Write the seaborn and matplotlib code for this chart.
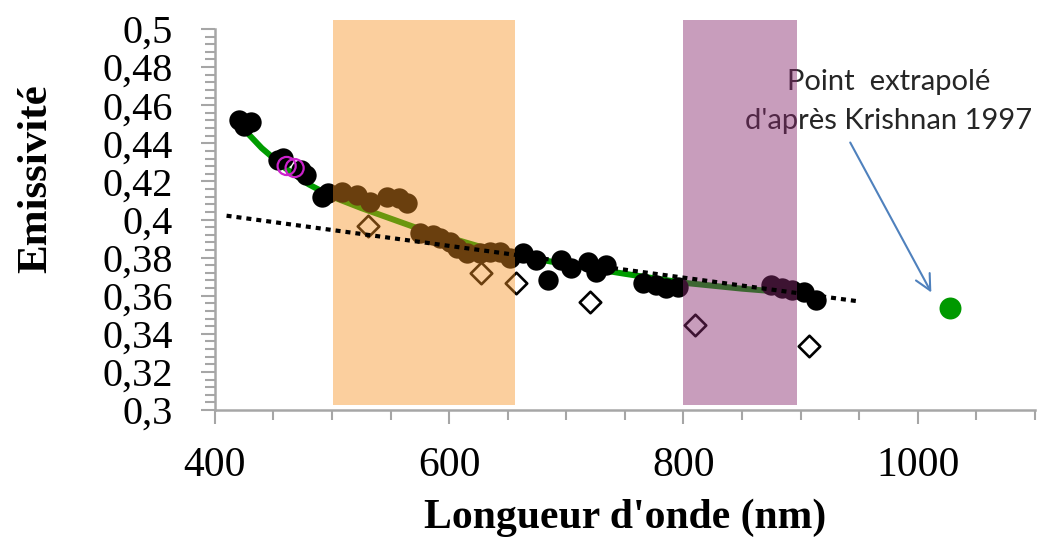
import matplotlib
matplotlib.use('Agg')
import matplotlib.pyplot as plt
from matplotlib.ticker import MultipleLocator
import seaborn as sns

sns.set_style('white')
plt.rcParams['font.family'] = ['Liberation Serif', 'DejaVu Serif']

# points mesurés (longueur d'onde nm, émissivité)
pts_nm = [420.4, 430.6, 424.7, 453.6, 457.9, 473.2, 477.4, 491.7, 496.2,
          508.7, 521.4, 532.8, 547.0, 556.9, 564.0,
          575.3, 586.6, 592.3, 600.9, 606.5, 615.0, 626.4, 634.9, 643.4, 651.9,
          663.2, 674.6, 684.5, 695.9, 704.4, 718.6, 725.7, 734.2,
          765.4, 776.8, 785.3, 795.1, 874.6, 884.5, 893.0, 903.0, 912.9]
pts_em = [0.4522, 0.4512, 0.4490, 0.4312, 0.4323, 0.4260, 0.4234, 0.4120, 0.4139,
          0.4146, 0.4129, 0.4093, 0.4120, 0.4111, 0.4085,
          0.3928, 0.3919, 0.3901, 0.3884, 0.3849, 0.3823, 0.3823, 0.3831, 0.3831, 0.3796,
          0.3823, 0.3787, 0.3682, 0.3787, 0.3744, 0.3779, 0.3726, 0.3761,
          0.3665, 0.3656, 0.3639, 0.3647, 0.3656, 0.3639, 0.3630, 0.3621, 0.3577]

# cercles magenta
mag_nm = [461.3, 468.1]
mag_em = [0.4281, 0.4270]

# losanges
dia_nm = [531.0, 627.2, 657.0, 720.0, 810.0, 907.2]
dia_em = [0.3966, 0.3719, 0.3667, 0.3567, 0.3446, 0.3334]

# courbe verte (ajustement)
fit_nm = [420, 440, 460, 480, 500, 525, 550, 575, 600, 625, 650, 700, 750, 800, 850, 890]
fit_em = [0.4505, 0.4375, 0.4270, 0.4185, 0.4120, 0.4060, 0.4005, 0.3950, 0.3905, 0.3860,
          0.3820, 0.3765, 0.3715, 0.3668, 0.3637, 0.3617]

# tendance linéaire (pointillés)
trend_nm = [410, 950]
trend_em = [0.402, 0.357]

# point extrapolé
ext_nm = [1027.2]
ext_em = [0.3535]

# bandes
band_orange = (501, 656)
band_violet = (800, 897)

x_ticks = [400, 600, 800, 1000]
x_ticklabels = ['400', '600', '800', '1000']
y_ticks = [0.3, 0.32, 0.34, 0.36, 0.38, 0.4, 0.42, 0.44, 0.46, 0.48, 0.5]
y_ticklabels = ['0,3', '0,32', '0,34', '0,36', '0,38', '0,4', '0,42', '0,44', '0,46', '0,48', '0,5']

fig = plt.figure(figsize=(10.48, 5.42), dpi=100)
ax = fig.add_axes([0.205, 0.2435, 0.7824, 0.703])

sns.lineplot(x=fit_nm, y=fit_em, color='#009c00', lw=4.3, ax=ax, zorder=1.5)
sns.scatterplot(x=pts_nm, y=pts_em, color='black', s=215, linewidth=0, ax=ax, zorder=2)
ax.scatter(mag_nm, mag_em, s=170, facecolors='none', edgecolors='#cc22cc', linewidths=1.6, zorder=2.1)
ax.scatter(dia_nm, dia_em, marker='D', s=120, facecolors='white', edgecolors='black',
           linewidths=1.9, zorder=2)

ax.text(975, 0.4622, "Point  extrapolé\nd'après Krishnan 1997", ha='center', va='center',
        fontsize=21, family=['Lato', 'DejaVu Sans'], color='#262626', linespacing=1.62, zorder=2)

# bandes semi-transparentes par-dessus les points
for (a, b), c, al in [(band_orange, '#f69122', 0.435), (band_violet, '#872a6e', 0.46)]:
    ax.axvspan(a, b, ymin=0.013, ymax=1.0236, color=c, alpha=al, lw=0, zorder=3, clip_on=False)

ax.plot(trend_nm, trend_em, color='black', lw=3, linestyle=(0, (1.2, 1.2)), zorder=4)
sns.scatterplot(x=ext_nm, y=ext_em, color='#009900', s=250, linewidth=0, ax=ax, zorder=4)

ax.annotate('', xy=(1012.8, 0.3604), xytext=(941.3, 0.4417),
            arrowprops=dict(arrowstyle='->', color='#4f81bd', lw=1.5, mutation_scale=28), zorder=4)

ax.set_xlim(400, 1100)
ax.set_ylim(0.3, 0.5)
ax.set_xticks(x_ticks)
ax.set_xticklabels(x_ticklabels)
ax.set_yticks(y_ticks)
ax.set_yticklabels(y_ticklabels)
ax.xaxis.set_minor_locator(MultipleLocator(50))
ax.yaxis.set_minor_locator(MultipleLocator(0.004))

for s in ['top', 'right']:
    ax.spines[s].set_visible(False)
for s in ['left', 'bottom']:
    ax.spines[s].set_color('#a6a6a6')
    ax.spines[s].set_linewidth(1.8)

ax.tick_params(axis='both', which='major', direction='out', length=10, width=1.5,
               color='#a6a6a6', labelcolor='black', left=True, bottom=True)
ax.tick_params(axis='both', which='minor', direction='out', length=7, width=1.5,
               color='#a6a6a6', left=True, bottom=True)
ax.tick_params(axis='y', which='major', pad=20, labelsize=29)
ax.tick_params(axis='x', which='major', pad=16, labelsize=30)

ax.set_xlabel("Longueur d'onde (nm)", fontsize=30, fontweight='bold', labelpad=10, color='black')
ax.set_ylabel('Emissivité', fontsize=31, fontweight='bold', color='black')
ax.yaxis.set_label_coords(-0.195, 0.607)

fig.savefig('out.png', dpi=100)
